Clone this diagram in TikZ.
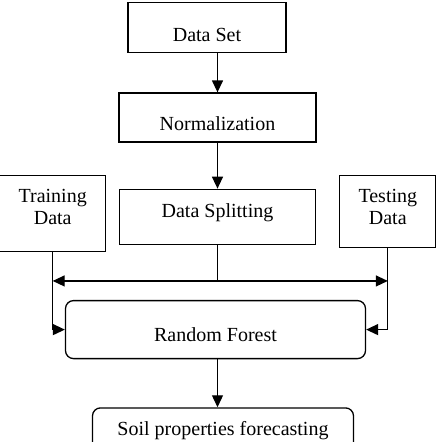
\documentclass[tikz,border=0pt]{standalone}
\usepackage{fontspec}
\setmainfont{Liberation Serif}
\usetikzlibrary{arrows.meta,positioning}
\tikzset{
  box/.style={
    rectangle, draw=black, line width=1.3pt,
    align=center, font=\fontsize{20}{22}\selectfont
  },
  rbox/.style={
    box, rounded corners=8pt
  },
  arrow/.style={-{Triangle[length=12pt,width=11pt]}, line width=1.3pt},
  biarrow/.style={{Triangle[length=12pt,width=11pt]}-{Triangle[length=12pt,width=11pt]}, line width=1.3pt},
  line/.style={line width=1.3pt}
}
\begin{document}
\begin{tikzpicture}
  \clip (0,0) rectangle (436pt,-442pt);
  \useasboundingbox (0,0) rectangle (436pt,-442pt);

  % Middle column
  \node[box, minimum width=197pt, minimum height=49pt,
    text height=25pt, text depth=0pt]
    (norm) at (217.5pt,-117.5pt) {Normalization};
  \node[box, minimum width=158pt, minimum height=50pt,
    text height=28pt, text depth=0pt,
    above=39pt of norm, xshift=-10.5pt] (dataset) {Data Set};
  \node[box, minimum width=196pt, minimum height=55pt,
    text height=14pt, text depth=13pt,
    below=46pt of norm] (split) {Data Splitting};

  % Side inputs
  \node[box, minimum width=106pt, minimum height=76pt,
    text height=36pt, text depth=14pt,
    left=12.5pt of split, yshift=3.5pt] (train) {Training\\Data};
  \node[box, minimum width=96pt, minimum height=72pt,
    text height=38pt, text depth=12pt,
    right=23pt of split, yshift=5.5pt] (test) {Testing\\Data};

  % Model and output
  \node[rbox, minimum width=300pt, minimum height=58pt,
    text height=24pt, text depth=0pt,
    below=55pt of split, xshift=-2pt] (rf) {Random Forest};
  \node[rbox, minimum width=261pt, minimum height=46pt,
    below=48pt of rf, xshift=7.5pt] (soil) {Soil properties forecasting};

  \coordinate (fork) at ([yshift=-36pt]split.south);
  \coordinate (forkL) at (fork -| train.south);
  \coordinate (forkR) at (fork -| test.south);

  \draw[arrow] (dataset.south -| norm.north) -- (norm.north);
  \draw[arrow] (norm.south) -- (split.north);
  \draw[line] (split.south) -- (fork);
  \draw[biarrow] (forkL) -- (forkR);
  \draw[arrow] (train.south) |- (rf.west);
  \draw[arrow] (test.south) |- (rf.east);
  \draw[arrow] (rf.south -| norm.south) -- (soil.north -| norm.south);
\end{tikzpicture}
\end{document}
